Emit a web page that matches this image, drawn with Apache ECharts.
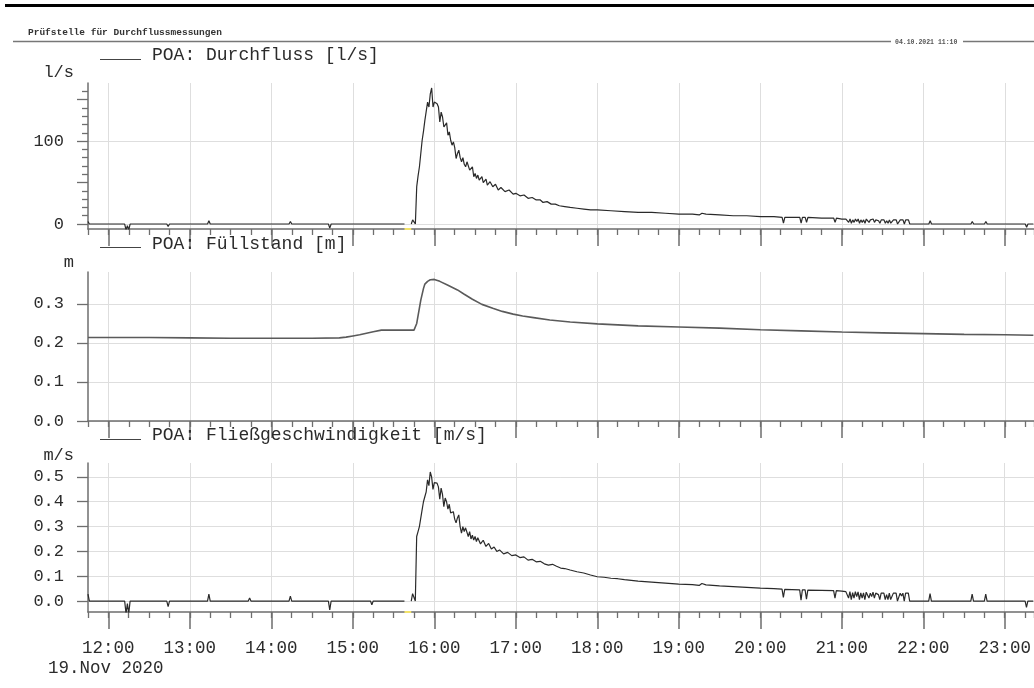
<!DOCTYPE html>
<html>
<head>
<meta charset="utf-8">
<script src="https://cdn.jsdelivr.net/npm/echarts@6/dist/echarts.min.js"></script>
<style>
  html, body { margin: 0; padding: 0; background: #fff; }
  #chart { width: 1034px; height: 688px; }
</style>
</head>
<body>
<div id="chart"></div>
<script>
// Messstelle POA, 19.11.2020 – Durchfluss, Füllstand und Fließgeschwindigkeit

const stationTitle = 'Prüfstelle für Durchflussmessungen';
const printStamp = '04.10.2021 11:10';
const dayLabel = '19.Nov 2020';
const panelTitles = ['POA: Durchfluss [l/s]', 'POA: Füllstand [m]', 'POA: Fließgeschwindigkeit [m/s]'];
const panelUnits = ['l/s', 'm', 'm/s'];
const hourTicks = [12, 13, 14, 15, 16, 17, 18, 19, 20, 21, 22, 23];
const flowLabelTicks = [0, 100];
const flowHalfTicks = [50, 150];
const flowMinorTicks = [10, 20, 30, 40, 60, 70, 80, 90, 110, 120, 130, 140, 160];
const levelTicks = [0, 0.1, 0.2, 0.3];
const speedTicks = [0, 0.1, 0.2, 0.3, 0.4, 0.5];
// Datenlücke (keine Messwerte)
const dataGap = ['15:38', '15:43'];

// Durchfluss [l/s]
const flowData = [
  ['11:45', 3], ['11:46', 0], ['12:12', 0], ['12:13', -7], ['12:14', -2], ['12:15', -7], ['12:16', 0],
  ['12:43', 0], ['12:44', -3], ['12:45', 0], ['13:13', 0], ['13:14', 4], ['13:15', 0],
  ['13:43', 0], ['13:44', 2], ['13:45', 0], ['14:13', 0], ['14:14', 3], ['14:15', 0],
  ['14:42', 0], ['14:43', -5], ['14:44', 0], ['15:13', 0], ['15:14', -2], ['15:15', 0], ['15:38', 0],
  ['15:40', null],
  ['15:43', 0], ['15:44', 5], ['15:46', 0], ['15:47', 45], ['15:48', 58], ['15:49', 69], ['15:51', 101],
  ['15:52', 112], ['15:53', 125], ['15:54', 125], ['15:55', 147], ['15:56', 141], ['15:57', 157],
  ['15:58', 164], ['15:59', 141], ['16:00', 147], ['16:01', 148], ['16:02', 145], ['16:03', 141],
  ['16:04', 123], ['16:05', 135], ['16:06', 129], ['16:07', 117], ['16:08', 116], ['16:09', 122],
  ['16:10', 107], ['16:11', 111], ['16:12', 101], ['16:13', 95], ['16:14', 99], ['16:15', 92],
  ['16:16', 79], ['16:17', 85], ['16:18', 89], ['16:19', 80], ['16:20', 75], ['16:21', 80],
  ['16:22', 72], ['16:23', 69], ['16:24', 75], ['16:25', 73], ['16:26', 65], ['16:27', 66],
  ['16:28', 69], ['16:29', 57], ['16:30', 61], ['16:31', 55], ['16:32', 59], ['16:33', 53],
  ['16:35', 57], ['16:36', 50], ['16:38', 54], ['16:39', 47], ['16:41', 51], ['16:43', 45],
  ['16:45', 48], ['16:47', 41], ['16:49', 44], ['16:52', 39], ['16:55', 41], ['16:58', 36],
  ['17:00', 37], ['17:03', 34], ['17:06', 35], ['17:09', 31], ['17:12', 32], ['17:15', 29],
  ['17:18', 29], ['17:20', 26], ['17:23', 27], ['17:26', 24], ['17:29', 24], ['17:32', 22],
  ['17:36', 21], ['17:40', 20], ['17:45', 19], ['17:50', 18], ['17:55', 17], ['18:00', 17],
  ['18:10', 16], ['18:20', 15], ['18:30', 14], ['18:40', 14], ['18:50', 13], ['19:00', 12],
  ['19:10', 12], ['19:15', 11], ['19:17', 13], ['19:20', 12], ['19:30', 11], ['19:40', 10],
  ['19:50', 10], ['20:00', 9], ['20:10', 9], ['20:16', 8], ['20:17', 1], ['20:18', 8],
  ['20:29', 8], ['20:30', 1], ['20:31', 8], ['20:33', 8], ['20:34', 2], ['20:35', 8],
  ['20:45', 7], ['20:54', 7], ['20:55', 2], ['20:56', 7], ['21:00', 6], ['21:03', 6],
  ['21:04', 6], ['21:05', 2], ['21:06', 6], ['21:07', 1], ['21:08', 5], ['21:09', 2],
  ['21:10', 6], ['21:11', 3], ['21:12', 6], ['21:13', 1], ['21:14', 5], ['21:15', 2],
  ['21:16', 5], ['21:17', 1], ['21:18', 6], ['21:20', 2], ['21:21', 5], ['21:22', 3],
  ['21:23', 6], ['21:24', 2], ['21:25', 5], ['21:27', 4], ['21:28', 1], ['21:29', 5],
  ['21:31', 5], ['21:32', 1], ['21:33', 4], ['21:34', 1], ['21:35', 5], ['21:36', 1],
  ['21:37', 0], ['21:38', 5], ['21:39', 4], ['21:40', 5], ['21:41', 0], ['21:42', 0],
  ['21:43', 5], ['21:44', 3], ['21:45', 5], ['21:46', 0], ['21:47', 5], ['21:48', 4],
  ['21:49', 5], ['21:50', 0], ['22:04', 0], ['22:05', 4], ['22:06', 0], ['22:15', 0],
  ['22:16', 1], ['22:17', 0], ['22:35', 0], ['22:36', 3], ['22:37', 0], ['22:45', 0],
  ['22:46', 3], ['22:47', 0], ['23:15', 0], ['23:16', -4], ['23:17', 0], ['23:21', 0]
];

// Füllstand [m]
const levelData = [
  ['11:45', 0.214], ['12:30', 0.214], ['13:00', 0.213], ['13:30', 0.212], ['14:00', 0.212],
  ['14:30', 0.212], ['14:50', 0.213], ['14:55', 0.215], ['15:00', 0.218], ['15:05', 0.221],
  ['15:10', 0.225], ['15:15', 0.229], ['15:21', 0.233], ['15:30', 0.233], ['15:45', 0.233],
  ['15:46', 0.236], ['15:47', 0.25], ['15:49', 0.29], ['15:50', 0.31], ['15:52', 0.34],
  ['15:53', 0.351], ['15:55', 0.358], ['15:57', 0.362], ['16:00', 0.363], ['16:04', 0.358],
  ['16:10', 0.348], ['16:17', 0.336], ['16:22', 0.325], ['16:28', 0.312], ['16:35', 0.299],
  ['16:43', 0.289], ['16:50', 0.281], ['16:58', 0.274], ['17:05', 0.269], ['17:13', 0.265],
  ['17:25', 0.259], ['17:40', 0.254], ['18:00', 0.249], ['18:30', 0.244], ['19:00', 0.241],
  ['19:30', 0.238], ['20:00', 0.234], ['20:30', 0.231], ['21:00', 0.228], ['21:30', 0.226],
  ['22:00', 0.224], ['22:30', 0.222], ['23:00', 0.221], ['23:21', 0.22]
];

// Fließgeschwindigkeit [m/s]
const speedData = [
  ['11:45', 0.028], ['11:46', 0], ['12:12', 0], ['12:13', -0.05], ['12:14', -0.01], ['12:15', -0.05], ['12:16', 0],
  ['12:43', 0], ['12:44', -0.022], ['12:45', 0], ['13:13', 0], ['13:14', 0.028], ['13:15', 0],
  ['13:43', 0], ['13:44', 0.012], ['13:45', 0], ['14:13', 0], ['14:14', 0.02], ['14:15', 0],
  ['14:42', 0], ['14:43', -0.036], ['14:44', 0], ['15:13', 0], ['15:14', -0.015], ['15:15', 0], ['15:38', 0],
  ['15:40', null],
  ['15:43', 0], ['15:44', 0.03], ['15:46', 0], ['15:47', 0.26], ['15:48', 0.28], ['15:49', 0.30],
  ['15:51', 0.367], ['15:52', 0.40], ['15:53', 0.42], ['15:54', 0.44], ['15:55', 0.488],
  ['15:56', 0.465], ['15:57', 0.52], ['15:58', 0.50], ['15:59', 0.45], ['16:00', 0.477],
  ['16:01', 0.48], ['16:02', 0.475], ['16:03', 0.46], ['16:04', 0.41], ['16:05', 0.455],
  ['16:06', 0.43], ['16:07', 0.38], ['16:08', 0.415], ['16:09', 0.40], ['16:10', 0.37],
  ['16:11', 0.39], ['16:12', 0.355], ['16:13', 0.347], ['16:14', 0.36], ['16:15', 0.33],
  ['16:16', 0.315], ['16:17', 0.335], ['16:18', 0.347], ['16:19', 0.30], ['16:20', 0.274],
  ['16:21', 0.30], ['16:22', 0.28], ['16:23', 0.295], ['16:24', 0.29], ['16:25', 0.26],
  ['16:26', 0.28], ['16:27', 0.25], ['16:28', 0.265], ['16:29', 0.246], ['16:30', 0.26],
  ['16:31', 0.24], ['16:32', 0.255], ['16:34', 0.23], ['16:36', 0.245], ['16:38', 0.22],
  ['16:40', 0.232], ['16:42', 0.21], ['16:44', 0.218], ['16:46', 0.20], ['16:48', 0.206],
  ['16:51', 0.19], ['16:54', 0.196], ['16:57', 0.183], ['17:00', 0.186], ['17:03', 0.175],
  ['17:06', 0.178], ['17:09', 0.165], ['17:12', 0.168], ['17:15', 0.158], ['17:18', 0.16],
  ['17:21', 0.15], ['17:24', 0.145], ['17:27', 0.148], ['17:30', 0.14], ['17:33', 0.133],
  ['17:36', 0.131], ['17:40', 0.125], ['17:45', 0.118], ['17:50', 0.113], ['17:55', 0.105],
  ['18:00', 0.098], ['18:05', 0.096], ['18:10', 0.092], ['18:15', 0.09], ['18:20', 0.086],
  ['18:25', 0.083], ['18:30', 0.08], ['18:40', 0.076], ['18:50', 0.072], ['19:00', 0.068],
  ['19:10', 0.066], ['19:15', 0.063], ['19:17', 0.071], ['19:20', 0.065], ['19:30', 0.061],
  ['19:40', 0.058], ['19:50', 0.055], ['20:00', 0.052], ['20:10', 0.05], ['20:16', 0.048],
  ['20:17', 0.015], ['20:18', 0.047], ['20:29', 0.045], ['20:30', 0.004], ['20:31', 0.045],
  ['20:33', 0.045], ['20:34', 0.008], ['20:35', 0.044], ['20:45', 0.043], ['20:54', 0.042],
  ['20:55', 0.012], ['20:56', 0.042], ['21:00', 0.04], ['21:03', 0.038],
  ['21:04', 0.038], ['21:05', 0.012], ['21:06', 0.038], ['21:07', 0.006], ['21:08', 0.034],
  ['21:09', 0.012], ['21:10', 0.038], ['21:11', 0.018], ['21:12', 0.037], ['21:13', 0.006],
  ['21:14', 0.033], ['21:15', 0.012], ['21:16', 0.033], ['21:17', 0.006], ['21:18', 0.036],
  ['21:20', 0.012], ['21:21', 0.032], ['21:22', 0.018], ['21:23', 0.036], ['21:24', 0.012],
  ['21:25', 0.032], ['21:27', 0.026], ['21:28', 0.006], ['21:29', 0.032], ['21:31', 0.032],
  ['21:32', 0.006], ['21:33', 0.026], ['21:34', 0.006], ['21:35', 0.032], ['21:36', 0.006],
  ['21:37', 0], ['21:38', 0.032], ['21:39', 0.026], ['21:40', 0.032], ['21:41', 0],
  ['21:42', 0], ['21:43', 0.032], ['21:44', 0.02], ['21:45', 0.032], ['21:46', 0],
  ['21:47', 0.032], ['21:48', 0.026], ['21:49', 0.032], ['21:50', 0], ['22:04', 0],
  ['22:05', 0.03], ['22:06', 0], ['22:15', 0], ['22:16', 0.008], ['22:17', 0], ['22:35', 0],
  ['22:36', 0.028], ['22:37', 0], ['22:45', 0], ['22:46', 0.028], ['22:47', 0], ['23:15', 0],
  ['23:16', -0.025], ['23:17', 0], ['23:21', 0]
];

// Uhrzeit "HH:MM" -> Dezimalstunden
function hours(t) {
  const p = t.split(':');
  return +p[0] + (+p[1]) / 60;
}
const toPoints = rows => rows.map(r => [hours(r[0]), r[1]]);

const FONT = '"Liberation Mono", "DejaVu Sans Mono", monospace';
const TEXT = '#2b2b2b';
const AXIS = '#6e6e6e';
const GRIDC = '#dedede';

const X_MIN = 11.75;                 // 11:45
const PX_PER_HOUR = 81.5;
const PLOT_LEFT = 88;
const X_MAX = X_MIN + (1034 - PLOT_LEFT) / PX_PER_HOUR;

const grids = [
  { left: PLOT_LEFT, right: 0, top: 83, height: 146 },
  { left: PLOT_LEFT, right: 0, top: 272, height: 149 },
  { left: PLOT_LEFT, right: 0, top: 463, height: 149 }
];

function minorX(gi) {
  return {
    type: 'value', gridIndex: gi, position: 'bottom', offset: 0,
    min: X_MIN, max: X_MAX, interval: 0.25,
    axisLine: { show: true, onZero: false, lineStyle: { color: AXIS, width: 1.5 } },
    axisTick: { show: true, length: 6, lineStyle: { color: AXIS, width: 1.3 } },
    axisLabel: { show: false }, splitLine: { show: false }
  };
}
function majorX(gi, withLabels) {
  return {
    type: 'value', gridIndex: gi, position: 'bottom', offset: 0,
    min: X_MIN, max: X_MAX,
    axisLine: { show: false, onZero: false },
    axisTick: { show: true, length: 17, customValues: hourTicks, lineStyle: { color: AXIS, width: 1.5 } },
    axisLabel: {
      show: withLabels, customValues: hourTicks, margin: 27,
      fontFamily: FONT, fontSize: 17.5, color: TEXT,
      formatter: v => Math.round(v) + ':00'
    },
    splitLine: { show: true, lineStyle: { color: GRIDC, width: 1 } }
  };
}

const yLabelStyle = { fontFamily: FONT, fontSize: 17, color: TEXT, margin: 24 };

function yAxis(gi, min, max, extra) {
  return Object.assign({
    type: 'value', gridIndex: gi, position: 'left', offset: 0, min: min, max: max,
    axisLine: { show: false, onZero: false },
    axisLabel: { show: false }, splitLine: { show: false }
  }, extra);
}

const yAxes = [
  // Durchfluss: beschriftete Ticks + Gitter
  yAxis(0, -6, 170, {
    axisLine: { show: true, onZero: false, lineStyle: { color: AXIS, width: 1.5 } },
    axisTick: { show: true, length: 11, customValues: flowLabelTicks, lineStyle: { color: AXIS, width: 1.3 } },
    axisLabel: Object.assign({ customValues: flowLabelTicks }, yLabelStyle),
    splitLine: { show: true, lineStyle: { color: GRIDC } }
  }),
  yAxis(0, -6, 170, {
    axisTick: { show: true, length: 11, customValues: flowHalfTicks, lineStyle: { color: AXIS, width: 1.3 } }
  }),
  yAxis(0, -6, 170, {
    axisTick: { show: true, length: 6, customValues: flowMinorTicks, lineStyle: { color: AXIS, width: 1.3 } }
  }),
  // Füllstand
  yAxis(1, 0, 0.382, {
    axisLine: { show: true, onZero: false, lineStyle: { color: AXIS, width: 1.5 } },
    axisTick: { show: true, length: 11, customValues: levelTicks, lineStyle: { color: AXIS, width: 1.3 } },
    axisLabel: Object.assign({ customValues: levelTicks, formatter: v => v.toFixed(1) }, yLabelStyle),
    splitLine: { show: true, lineStyle: { color: GRIDC } }
  }),
  // Fließgeschwindigkeit
  yAxis(2, -0.044, 0.556, {
    axisLine: { show: true, onZero: false, lineStyle: { color: AXIS, width: 1.5 } },
    axisTick: { show: true, length: 11, customValues: speedTicks, lineStyle: { color: AXIS, width: 1.3 } },
    axisLabel: Object.assign({ customValues: speedTicks, formatter: v => v.toFixed(1) }, yLabelStyle),
    splitLine: { show: true, lineStyle: { color: GRIDC } }
  })
];

function lineSeries(data, xi, yi, color, width) {
  return {
    type: 'line', xAxisIndex: xi, yAxisIndex: yi, data: toPoints(data),
    showSymbol: false, symbol: 'none', connectNulls: false, clip: true,
    lineStyle: { color: color, width: width }, animation: false, z: 5
  };
}
function gapSeries(xi, yi, yValue) {
  return {
    type: 'line', xAxisIndex: xi, yAxisIndex: yi,
    data: dataGap.map(t => [hours(t), yValue]),
    showSymbol: false, symbol: 'none', clip: false,
    lineStyle: { color: '#f3e36a', width: 2 }, animation: false, z: 6
  };
}

function titleItems(title, yText, yLine) {
  return [
    { type: 'line', shape: { x1: 100, y1: yLine, x2: 141, y2: yLine },
      style: { stroke: '#444', lineWidth: 1.2 }, z: 10 },
    { type: 'text', x: 152, y: yText,
      style: { text: title, font: '18px ' + FONT, fill: TEXT, textVerticalAlign: 'middle' }, z: 10 }
  ];
}

const graphics = [
  { type: 'line', shape: { x1: 5, y1: 5.5, x2: 1034, y2: 5.5 }, style: { stroke: '#000', lineWidth: 3 } },
  { type: 'text', x: 28, y: 33,
    style: { text: stationTitle, font: 'bold 9.5px ' + FONT, fill: '#333', textVerticalAlign: 'middle' } },
  { type: 'line', shape: { x1: 13, y1: 41.5, x2: 891, y2: 41.5 }, style: { stroke: '#777', lineWidth: 1.3 } },
  { type: 'text', x: 895, y: 42,
    style: { text: printStamp, font: 'bold 6.5px ' + FONT, fill: '#555', textVerticalAlign: 'middle' } },
  { type: 'line', shape: { x1: 963, y1: 41.5, x2: 1034, y2: 41.5 }, style: { stroke: '#777', lineWidth: 1.3 } },
  { type: 'text', x: 74, y: 72,
    style: { text: panelUnits[0], font: '17px ' + FONT, fill: TEXT, textAlign: 'right', textVerticalAlign: 'middle' } },
  { type: 'text', x: 74, y: 262,
    style: { text: panelUnits[1], font: '17px ' + FONT, fill: TEXT, textAlign: 'right', textVerticalAlign: 'middle' } },
  { type: 'text', x: 74, y: 455,
    style: { text: panelUnits[2], font: '17px ' + FONT, fill: TEXT, textAlign: 'right', textVerticalAlign: 'middle' } },
  { type: 'text', x: 48, y: 668,
    style: { text: dayLabel, font: '17.5px ' + FONT, fill: TEXT, textVerticalAlign: 'middle' } }
].concat(
  titleItems(panelTitles[0], 55, 59.5),
  titleItems(panelTitles[1], 244, 247.5),
  titleItems(panelTitles[2], 435, 439.5)
);

const chart = echarts.init(document.getElementById('chart'), null, { renderer: 'canvas' });
chart.setOption({
  animation: false,
  backgroundColor: '#ffffff',
  grid: grids,
  xAxis: [minorX(0), majorX(0, false), minorX(1), majorX(1, false), minorX(2), majorX(2, true)],
  yAxis: yAxes,
  series: [
    lineSeries(flowData, 0, 0, '#2a2a2a', 1.2),
    lineSeries(levelData, 2, 3, '#5a5a5a', 1.6),
    lineSeries(speedData, 4, 4, '#2a2a2a', 1.2),
    gapSeries(0, 0, -6),
    gapSeries(4, 4, -0.044)
  ],
  graphic: graphics
});
</script>
</body>
</html>
